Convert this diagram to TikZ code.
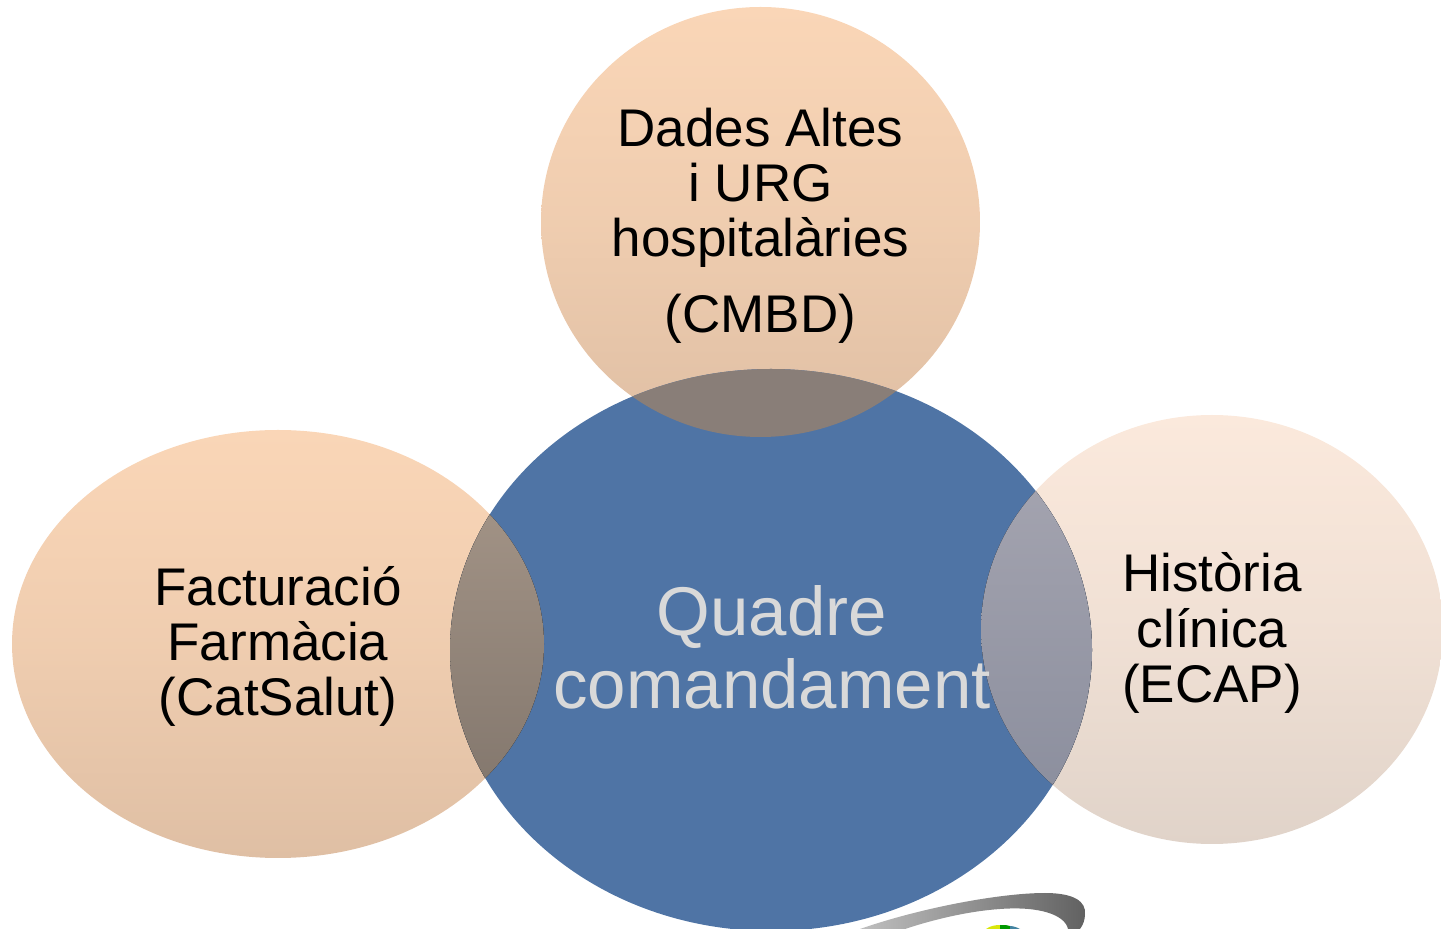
\documentclass[tikz,border=0pt]{standalone}
\usepackage{fontspec}
\setmainfont{Liberation Sans}
\usetikzlibrary{shapes.geometric}

\definecolor{blueMain}{HTML}{4F74A5}
\definecolor{textLight}{HTML}{D9D9D9}
\definecolor{peachTop}{HTML}{FAD6B7}
\definecolor{peachBot}{HTML}{DFBFA4}
\definecolor{paleTop}{HTML}{FBE9DC}
\definecolor{paleBot}{HTML}{E0D3C9}
\definecolor{overTop}{HTML}{897E78}
\definecolor{overLeftA}{HTML}{A19285}
\definecolor{overLeftB}{HTML}{84786E}
\definecolor{overRightA}{HTML}{A3A3AF}
\definecolor{overRightB}{HTML}{8C8F9E}

\newcommand{\topgap}[1]{\rule{0pt}{#1}}

\begin{document}
\begin{tikzpicture}[
    x=0.5pt, y=-0.5pt,
    bubble/.style={ellipse, inner sep=0pt, align=center, font=\fontsize{26.5}{27.6}\selectfont},
    peach/.style={bubble, top color=peachTop, bottom color=peachBot, middle color=peachTop!60!peachBot},
    pale/.style={bubble, top color=paleTop, bottom color=paleBot, middle color=paleTop!60!paleBot}
  ]
\useasboundingbox (0,0) rectangle (1441,929);
\clip (0,0) rectangle (1441,929);

% Outer bubbles
\node[peach, minimum width=219.5pt, minimum height=215pt] (cmbd) at (760.5,222)
  {\topgap{23pt}Dades Altes\\i URG\\hospitalàries\\[10.5pt](CMBD)};
\node[peach, minimum width=266pt, minimum height=214pt] (fact) at (278,644)
  {\topgap{22pt}Facturació\\Farmàcia\\(CatSalut)};
\node[pale, minimum width=231pt, minimum height=214.5pt] (ecap) at (1212,629.5)
  {\topgap{23pt}Història\\clínica\\(ECAP)};

% Central bubble
\node[bubble, fill=blueMain, minimum width=321pt, minimum height=281pt] (quadre) at (771,650) {};

% Overlaps
\begin{scope}
  \clip (771,650) ellipse [x radius=321, y radius=281];
  \clip (760.5,222) ellipse [x radius=219.5, y radius=215];
  \fill[overTop] (500,360) rectangle (1000,440);
\end{scope}
\begin{scope}
  \clip (771,650) ellipse [x radius=321, y radius=281];
  \clip (278,644) ellipse [x radius=266, y radius=214];
  \fill[top color=overLeftA, bottom color=overLeftB] (440,510) rectangle (560,785);
\end{scope}
\begin{scope}
  \clip (771,650) ellipse [x radius=321, y radius=281];
  \clip (1212,629.5) ellipse [x radius=231, y radius=214.5];
  \fill[top color=overRightA, bottom color=overRightB] (970,485) rectangle (1100,790);
\end{scope}

% Central text
\node[font=\fontsize{34.5}{36.5}\selectfont, text=textLight, align=center, yshift=1.5pt, xshift=0.5pt] (quadreText) at (quadre.center) {Quadre\\comandament};

% Logo at the bottom edge
\shade[left color=black!25, right color=black!62]
  (860,929) .. controls (920,908) and (1000,893) .. (1045,893)
  .. controls (1075,893) and (1086,902) .. (1085,914)
  .. controls (1085,920) and (1083,925) .. (1080,929) -- (1068,929)
  .. controls (1065,915) and (1040,906) .. (1000,909)
  .. controls (970,911) and (935,919) .. (905,929) -- cycle;
\fill[yellow!85!green] (986,929) .. controls (990,926) and (995,925) .. (1000,925) -- (1000,929) -- cycle;
\fill[green!60!black] (1000,929) -- (1000,925) .. controls (1005,925) and (1008,925) .. (1010,926) -- (1010,929) -- cycle;
\fill[cyan!60!black] (1010,929) -- (1010,926) .. controls (1014,926) and (1018,928) .. (1020,929) -- cycle;

\end{tikzpicture}
\end{document}
